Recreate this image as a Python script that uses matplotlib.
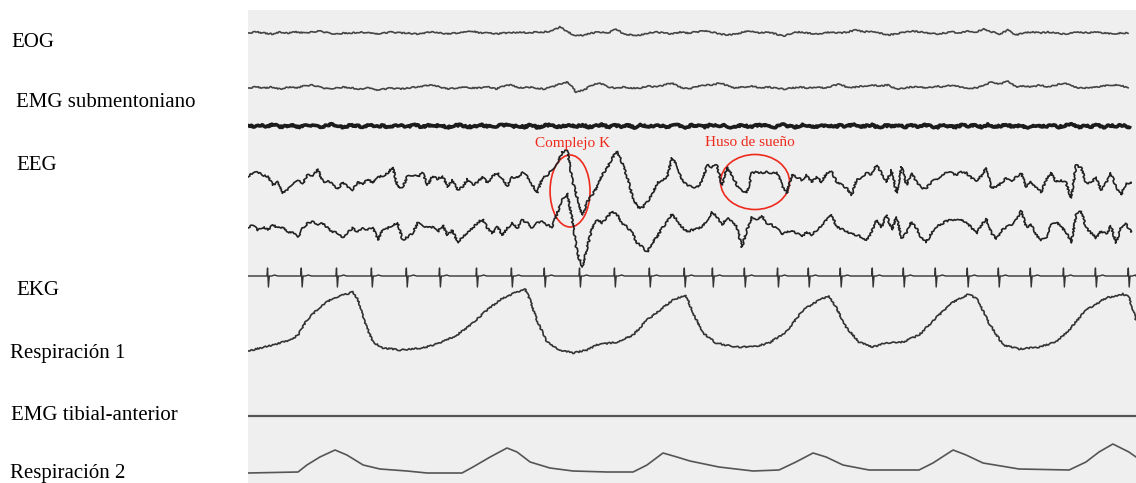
import numpy as np
import matplotlib.pyplot as plt
from matplotlib.patches import Ellipse

plt.rcParams['font.family'] = ['Liberation Serif', 'DejaVu Serif']

EPOCH = 30.0  # seconds shown across the page

# --- channel data: deflection from each channel's baseline (paper units, + is up) ---
eog_left = [0, 1, 0, -1, 1, 0, 1, 0, 1, 2, 0, -1, 0, 0, 1, 0, -1, 0, 1, 0,
            0, -1, 0, 1, 0, -1, 0, 1, 2, 0, 0, -1, 0, 0, 1, 0, 1, 1, 2, 6,
            1, -3, -2, 0, 1, 0, 4, -1, -2, -2, 0, 1, 0, -1, 1, 0, 1, 2, 1, -1,
            -2, -1, 1, 2, 0, 1, -1, -3, 0, 1, 0, -1, 0, 1, 0, 1, 3, 1, 2, 0,
            -2, -1, 1, 2, 1, 0, -1, 0, 1, 0, 2, 1, 4, 1, -1, 3, -2, 0, 1, 0,
            1, 0, -1, 0, 1, 0, 1, 0, -1, 0, 0]

eog_right = [0, 1, 0, 1, -1, 1, 0, 2, 3, 1, -1, 0, 1, 0, -1, 0, -2, -1, 0, -1,
             0, 1, 2, 3, 1, -1, 0, 1, 0, 0, 1, -1, 2, 3, 0, 1, 0, -1, 1, 4,
             6, -4, -2, 3, 5, 1, 0, 1, 0, 0, 2, 1, 3, 5, 1, -1, 1, 3, 3, 5,
             2, 0, 1, 2, 0, 1, 0, -1, 0, 1, 0, 1, 0, 2, 4, 0, 1, 2, 3, 2,
             3, -1, 0, 1, 1, 0, 2, 1, 3, 1, 0, 0, 3, 6, 4, 7, 1, 2, 1, 3,
             1, 3, 5, 2, 0, 0, 1, 2, 3, 3, 0]

emg_chin = [0.5, -1.0, 1.0, -0.5, 1.5, -1.0, 0.0, 1.0, -1.5, 0.5,
            1.0, -1.0, 0.0, 1.5, -0.5, -1.0, 1.0, 0.0, -1.0, 1.5,
            -0.5, 0.5, -1.5, 1.0, 0.0, -0.5, 1.0, -1.0, 0.5, 0.0,
            1.0, -1.5, 0.5, 1.0, -0.5, -1.0, 1.5, 0.0, -1.0, 0.5,
            1.0, -0.5, 0.0, -1.0, 1.5, -1.5, 0.5, 1.0, -1.0, 0.0,
            0.5, -0.5, 1.0, -1.0, 0.0, 1.5, -1.0, 0.5, -0.5, 1.0,
            -1.5, 1.0, 0.0, -0.5, 0.5, -1.0, 1.0, 0.5, -1.5, 1.0,
            0.0, -1.0, 1.5, -0.5, 0.5, -1.0, 0.0, 1.0, -1.0, 0.5,
            1.0, -0.5, -1.0, 1.5, 0.0, -1.5, 1.0, 0.5, -0.5, 0.0,
            1.0, -1.0, 0.5, -0.5, 1.5, -1.0, 0.0, 1.0, -1.5, 0.5,
            0.0, 1.0, -1.0, 0.5, -0.5, 1.0, 0.0, -1.5, 1.5, -0.5,
            -1.0, 1.0, 0.0, 0.5, -1.0, 1.5, -0.5, 0.0, 1.0, -1.0,
            0.5, -1.5, 1.0, 0.0, -0.5, 1.0, -1.0, 0.5, 1.5, -1.0,
            0.0, -0.5, 1.0, -1.0, 0.5, 0.0, 1.0, -1.5]

eeg_1 = [6, 10, 11, 8, 6, -2, 1, -10, -7, 0, 2, 0, 8, 7, 14, 1, 2, -1, -6, 1,
         -4, -7, 1, -2, 4, 0, 6, 7, 10, 16, -4, -4, 7, 8, 6, 10, -2, 7, 4, 7,
         -4, 3, -7, -4, 4, -2,
         1, 6, 0, 7, 10, 4, -3, 6, 5, 11, 6, -2, -10, 5, 7, 14, 20, 31, 33, 3,
         -15, -32, -19, -12, -4, 8, 15, 25, 32, 20, 6, -12, -24, -25, -19, -12, 0, 3, 6, 25,
         18, 3, -2, -4,
         -4, 1, 18, 16, 18, -2, 16, 8, -2, -9, -10, 10, 11, 10, 11, 10, 11, -2, -10, 8,
         6, 3, 8, 1, 6, 1, 10, 11, 1, -2, -5, -12, 3, 6, 10, 8, 18, 10, 1, 13,
         -10, 16, -2, 10,
         1, -5, -5, 1, 4, 6, 11, 10, 8, 11, 10, 5, 2, 7, 15, -5, -4, 0, 5, 1,
         6, 10, -4, 1, -5, -9, 3, 10, 1, 3, 0, -15, 18, 15, 0, 0, 6, -7, 0, 10,
         -4, -12, 0, 0]

eeg_2 = [0, 3, -2, 1, -2, 3, 0, 1, -4, -5, -9, 0, 5, 6, 3, 5, 0, -4, -5, -10,
         -4, 0, -4, 0, -2, 1, -12, -2, 0, 3, 5, -12, -9, -5, 5, 3, 0, 1, -4, 3,
         -7, -2, -15, -9, -5, 0,
         5, 9, 0, -5, 1, -7, 0, 5, 0, 8, 5, 0, 5, 7, 3, 1, 15, 28, 35, 8,
         -25, -39, -19, 0, 8, 5, 11, 17, 13, 5, 1, -5, -15, -19, -24, -15, -9, 0, 6, 14,
         8, 1, -4, -2,
         -1, 1, 8, 16, 11, 3, 10, 6, 1, -19, -2, 11, 9, 12, 5, 3, 0, -7, -4, -2,
         -5, -9, -4, -7, -2, 3, 8, 13, 1, -1, -3, -6, -7, -9, -12, -4, 8, 1, 13, -2,
         11, -10, -5, 6,
         0, -10, -14, -5, 1, 4, 7, 8, 9, 9, 5, 1, -6, 3, 9, -5, -11, -3, 1, 3,
         8, 17, 1, 3, -7, -12, -10, 3, 6, 1, -4, -15, 13, 17, 0, -5, -10, -3, -6, 2,
         -15, 1, 4, -4]

# EKG: R-wave times (s) and a single beat shape
ekg_beats = [0.68, 1.82, 3.01, 4.19, 5.37, 6.49, 7.74, 8.92, 10.03, 11.22,
             12.40, 13.58, 14.76, 15.71, 16.79, 17.91, 18.95, 20.03, 21.11, 22.16,
             23.24, 24.32, 25.37, 26.45, 27.57, 28.65, 29.76]
beat_t = [-0.12, -0.04, -0.02, 0.01, 0.04, 0.12, 0.22, 0.32]
beat_v = [0, 0, 8, -11, 0, 0, 1, 0]

resp_1_t = [0.00, 0.84, 1.42, 1.69, 1.99, 2.43, 2.87, 3.34, 3.55, 3.72,
            3.95, 4.22, 4.56, 5.14, 5.91, 6.49, 7.06, 7.60, 8.07, 8.61,
            9.09, 9.36, 9.53, 9.76, 10.10, 10.54, 10.98, 11.45, 11.79, 12.47,
            13.01, 13.48, 13.92, 14.36, 14.76, 14.86, 15.03, 15.37, 15.81, 16.49,
            17.06, 17.60, 18.18, 18.75, 19.29, 19.63, 19.86, 20.20, 20.64, 21.11,
            21.55, 22.13, 22.67, 23.24, 23.82, 24.36, 24.66, 25.03, 25.51, 26.05,
            26.72, 27.30, 27.74, 28.31, 28.99, 29.56, 29.76, 30.00]
resp_1_v = [2, 8, 13, 18, 33, 46, 55, 59, 61, 53,
            30, 11, 5, 3, 5, 10, 18, 30, 43, 55,
            61, 64, 53, 33, 11, 3, 0, 3, 8, 11,
            18, 33, 43, 53, 58, 53, 40, 20, 10, 6,
            6, 10, 21, 43, 53, 57, 46, 26, 11, 6,
            10, 11, 18, 35, 51, 59, 53, 30, 8, 4,
            6, 11, 23, 43, 55, 59, 56, 33]

emg_tibial = [0.0, 0.0]

resp_2_t = [0.00, 1.69, 1.99, 2.43, 2.94, 3.34, 3.89, 4.46, 5.37, 6.05,
            7.23, 7.60, 8.18, 8.75, 9.09, 9.53, 10.20, 10.98, 12.13, 13.01,
            13.48, 14.02, 14.49, 14.93, 15.91, 17.06, 17.94, 18.51, 19.09, 19.53,
            20.10, 20.98, 22.67, 23.14, 23.82, 24.26, 24.83, 26.05, 27.74, 28.31,
            28.75, 29.22, 29.76, 30.00]
resp_2_v = [0, 1, 8, 16, 23, 18, 8, 4, 2, 0,
            0, 6, 16, 25, 21, 11, 5, 2, 1, 1,
            8, 20, 16, 12, 6, 2, 3, 11, 20, 16,
            8, 3, 3, 10, 23, 18, 10, 4, 3, 11,
            21, 29, 21, 16]

labels = ['EOG', 'EMG submentoniano', 'EEG', 'EKG', 'Respiración 1',
          'EMG tibial-anterior', 'Respiración 2']

# --- page layout (baselines in paper units from the bottom edge) ---
base = {'eog_l': 450, 'eog_r': 395, 'chin': 357, 'eeg1': 300, 'eeg2': 255,
        'ekg': 207, 'resp1': 130, 'tib': 67, 'resp2': 10}
label_pos = [(11, 47), (16, 107), (16, 170), (16, 295), (10, 358), (11, 420), (10, 478)]

W, H = 1136, 483
fig = plt.figure(figsize=(W / 100, H / 100), dpi=100)
fig.patch.set_facecolor('white')
ax = fig.add_axes([248 / W, 0, 888 / W, 473 / H])
ax.set_xlim(0, EPOCH)
ax.set_ylim(0, 473)
ax.set_facecolor('#efefef')
for s in ax.spines.values():
    s.set_visible(False)
ax.set_xticks([])
ax.set_yticks([])


def sampled(values, b, rough=None, **kw):
    t = np.linspace(0, EPOCH, len(values), endpoint=False)
    ln, = ax.plot(t, b + np.asarray(values, float), solid_joinstyle='round', **kw)
    if rough:
        ln.set_sketch_params(*rough)
    return ln


# pen wobble on the paper traces
pen = (0.9, 3.0, 12.0)

sampled(eog_left, base['eog_l'], rough=(0.6, 4.0, 10.0), color='#444444', lw=1.2)
sampled(eog_right, base['eog_r'], rough=(0.6, 4.0, 10.0), color='#444444', lw=1.2)
sampled(emg_chin, base['chin'], rough=pen, color='#1c1c1c', lw=2.6)
sampled(eeg_1, base['eeg1'], rough=pen, color='#222222', lw=1.2)
sampled(eeg_2, base['eeg2'], rough=pen, color='#222222', lw=1.2)

# EKG built from beat times + beat shape
ekg_t = [0.0]
ekg_v = [0.0]
for r in ekg_beats:
    for dt, v in zip(beat_t, beat_v):
        if 0 <= r + dt <= EPOCH:
            ekg_t.append(r + dt)
            ekg_v.append(v)
ekg_t.append(EPOCH)
ekg_v.append(0.0)
ax.plot(ekg_t, base['ekg'] + np.array(ekg_v), color='#333333', lw=1.0)

r1, = ax.plot(resp_1_t, base['resp1'] + np.array(resp_1_v), color='#333333', lw=1.2)
r1.set_sketch_params(0.7, 3.0, 10.0)
ax.plot(np.linspace(0, EPOCH, len(emg_tibial)), base['tib'] + np.array(emg_tibial),
        color='#555555', lw=1.6)
ax.plot(resp_2_t, base['resp2'] + np.array(resp_2_v), color='#555555', lw=1.2)

# annotations
red = '#ee2a1c'
ax.add_patch(Ellipse((10.88, 292), 1.35, 72, fill=False, ec=red, lw=1.2))
ax.add_patch(Ellipse((17.13, 301), 2.33, 55, fill=False, ec=red, lw=1.2))
ax.text(10.95, 340, 'Complejo K', color=red, fontsize=11, ha='center', va='center')
ax.text(16.96, 340, 'Huso de sueño', color=red, fontsize=11, ha='center', va='center')

for lab, (x, y) in zip(labels, label_pos):
    fig.text(x / W, (H - y) / H, lab, fontsize=15, va='baseline', ha='left')

fig.savefig('out.png', dpi=100)
